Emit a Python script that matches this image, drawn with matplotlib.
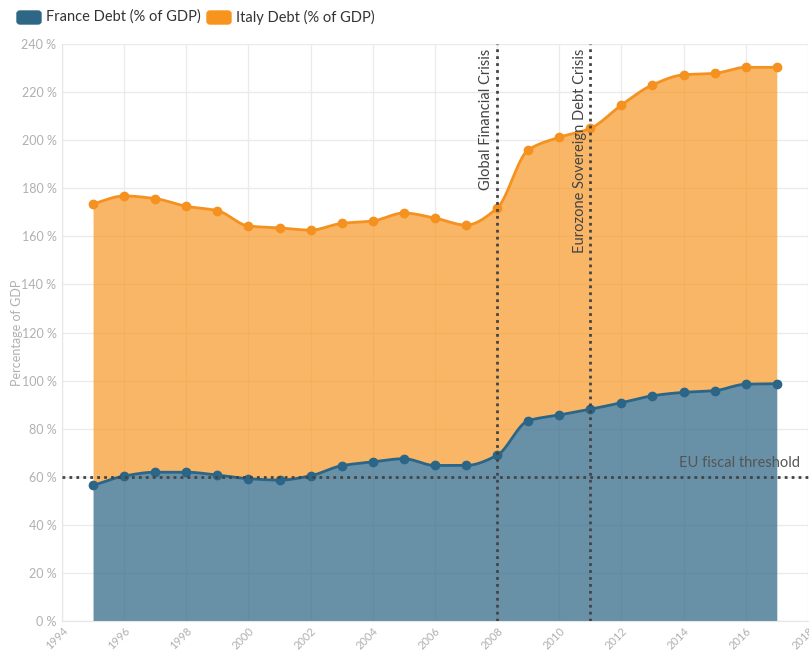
import numpy as np
import matplotlib
matplotlib.use("Agg")
import matplotlib.pyplot as plt
from matplotlib.patches import FancyBboxPatch

plt.rcParams["font.family"] = ["Lato", "DejaVu Sans"]

years = np.arange(1995, 2018)
france_debt = [56.4, 60.3, 61.9, 61.9, 60.7, 59.2, 58.6, 60.4, 64.6, 66.2, 67.5, 64.7,
               64.7, 68.9, 83.3, 85.7, 88.1, 90.8, 93.7, 95.1, 95.8, 98.5, 98.7]
italy_debt = [117.1, 116.5, 113.8, 110.6, 110.0, 105.1, 104.9, 102.2, 100.8, 100.2, 102.2,
              102.9, 100.0, 102.8, 112.6, 115.5, 116.8, 123.8, 129.3, 132.1, 132.0, 131.8, 131.6]
events = [(2008, "Global Financial Crisis"), (2011, "Eurozone Sovereign Debt Crisis")]
threshold = 60

FR_LINE, FR_PATCH = "#2b6587", "#2e6786"
IT_LINE, IT_PATCH = "#f5911f", "#f7941d"


def smooth(x, y, n=30):
    """Monotone cubic (Fritsch-Carlson) curve through the points, for drawing only."""
    x, y = np.asarray(x, float), np.asarray(y, float)
    h = np.diff(x)
    d = np.diff(y) / h
    m = np.zeros_like(y)
    m[0], m[-1] = d[0], d[-1]
    for i in range(1, len(y) - 1):
        if d[i - 1] * d[i] > 0:
            m[i] = 2 / (1 / d[i - 1] + 1 / d[i])
    xs, ys = [], []
    for i in range(len(h)):
        t = np.linspace(0, 1, n, endpoint=False)
        h00 = 2 * t**3 - 3 * t**2 + 1
        h10 = t**3 - 2 * t**2 + t
        h01 = -2 * t**3 + 3 * t**2
        h11 = t**3 - t**2
        xs.append(x[i] + t * h[i])
        ys.append(h00 * y[i] + h10 * h[i] * m[i] + h01 * y[i + 1] + h11 * h[i] * m[i + 1])
    xs.append([x[-1]])
    ys.append([y[-1]])
    return np.concatenate(xs), np.concatenate(ys)


fr = np.array(france_debt)
top = fr + np.array(italy_debt)
xs, fr_s = smooth(years, fr)
_, top_s = smooth(years, top)

fig = plt.figure(figsize=(8.09, 6.53), dpi=100)
ax = fig.add_axes([0.0766, 0.049, 0.922, 0.8836])

ax.fill_between(xs, 0, fr_s, color=FR_PATCH, alpha=0.72, lw=0, zorder=2)
ax.fill_between(xs, fr_s, top_s, color=IT_PATCH, alpha=0.68, lw=0, zorder=2)
ax.plot(xs, fr_s, color=FR_LINE, lw=2, zorder=3)
ax.plot(xs, top_s, color=IT_LINE, lw=2, zorder=3)
ax.plot(years, fr, "o", color=FR_LINE, ms=6, zorder=4)
ax.plot(years, top, "o", color=IT_LINE, ms=6, zorder=4)

ax.axhline(threshold, color="#444444", lw=2, ls=(0, (1, 1.5)), zorder=5, clip_on=False)
ax.text(2017.75, threshold + 3, "EU fiscal threshold", ha="right", va="bottom",
        fontsize=10.5, color="#555555", zorder=6)
for yr, label in events:
    ax.axvline(yr, color="#444444", lw=2, ls=(0, (1, 1.5)), zorder=5)
    ax.text(yr - 0.12, 238, label, rotation=90, ha="right", va="top",
            fontsize=10.5, color="#444444", zorder=6)

ax.set_xlim(1994, 2018)
ax.set_ylim(0, 240)
ax.set_xticks(range(1994, 2019, 2))
ax.set_yticks(range(0, 241, 20))
ax.set_yticklabels([f"{v} %" for v in range(0, 241, 20)])
for lab in ax.get_xticklabels():
    lab.set_rotation(45)
    lab.set_ha("right")
    lab.set_va("top")
    lab.set_rotation_mode("anchor")
ax.tick_params(axis="both", length=0, labelcolor="#b0b0b0")
ax.tick_params(axis="y", pad=4, labelsize=9)
ax.tick_params(axis="x", pad=3, labelsize=8)
ax.grid(True, color="#ebebeb", lw=1)
ax.set_axisbelow(True)
for side in ["top", "right"]:
    ax.spines[side].set_visible(False)
for side in ["left", "bottom"]:
    ax.spines[side].set_color("#e6e6e6")
ax.set_ylabel("Percentage of GDP", fontsize=9, color="#b0b0b0")
ax.yaxis.set_label_coords(-0.052, 0.5)

# legend above the plot
for x0, color, text in [(17, FR_PATCH, "France Debt (% of GDP)"),
                        (207, IT_PATCH, "Italy Debt (% of GDP)")]:
    fig.patches.append(FancyBboxPatch((x0 / 809, 1 - 24 / 653), 24 / 809, 13 / 653,
                                      boxstyle="round,pad=0,rounding_size=0.004",
                                      transform=fig.transFigure, color=color))
    fig.text((x0 + 29) / 809, 1 - 17 / 653, text, fontsize=10.5, color="#333333",
             va="center", ha="left")

fig.savefig("out.png", dpi=100)
